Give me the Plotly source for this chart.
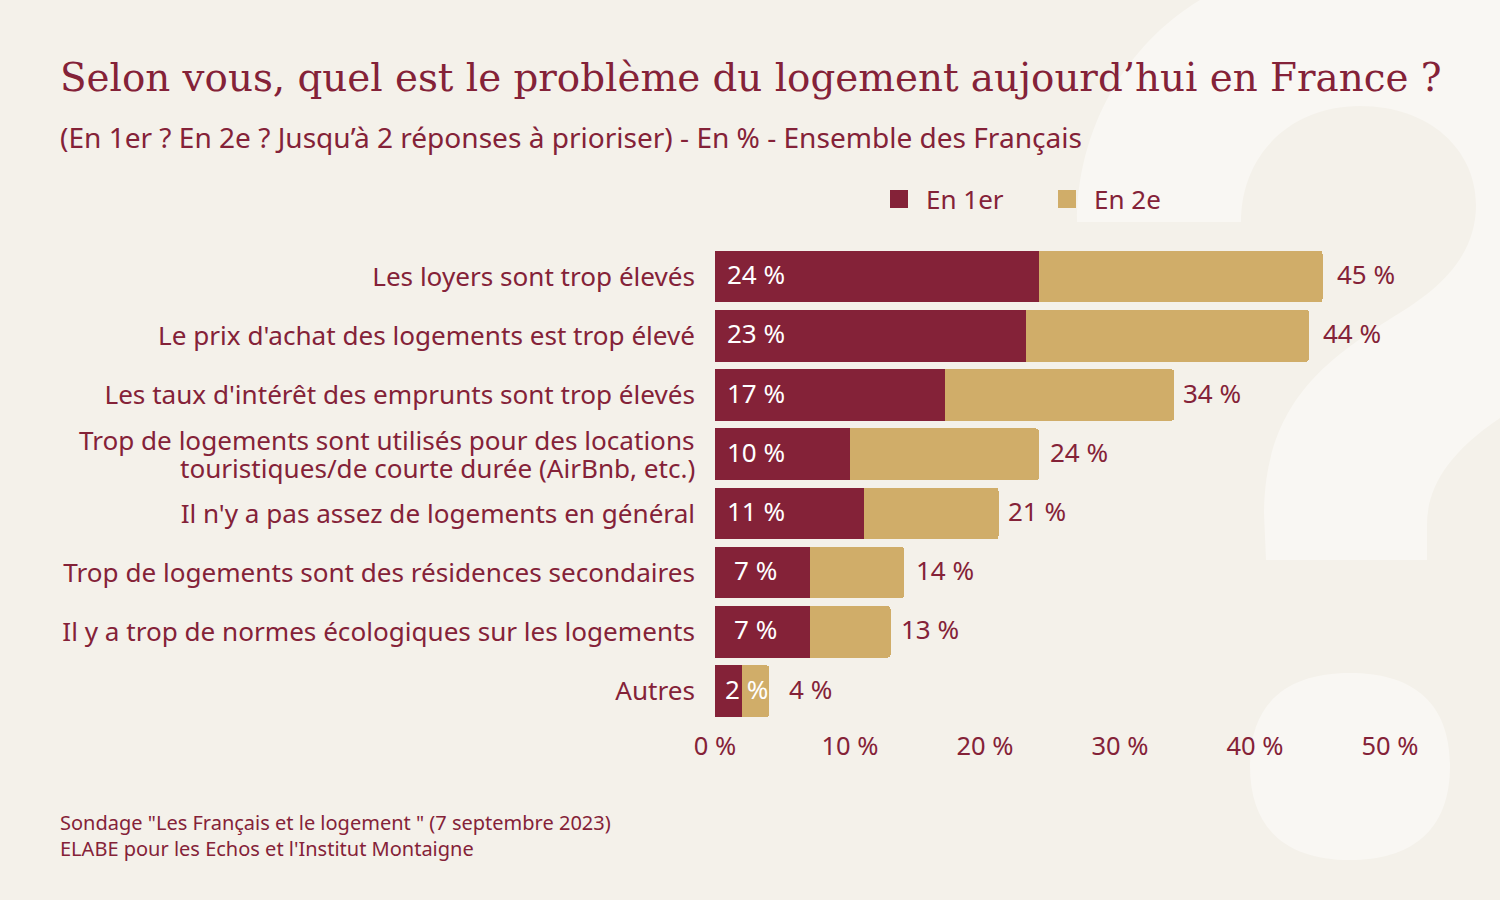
import re
import plotly.graph_objects as go

TITLE = "Selon vous, quel est le problème du logement aujourd’hui en France ?"
SUBTITLE = "(En 1er ? En 2e ? Jusqu’à 2 réponses à prioriser) - En % - Ensemble des Français"
SOURCE = "Sondage \"Les Français et le logement \" (7 septembre 2023)<br>ELABE pour les Echos et l'Institut Montaigne"

categories = [
    "Les loyers sont trop élevés",
    "Le prix d'achat des logements est trop élevé",
    "Les taux d'intérêt des emprunts sont trop élevés",
    "Trop de logements sont utilisés pour des locations<br>touristiques/de courte durée (AirBnb, etc.)",
    "Il n'y a pas assez de logements en général",
    "Trop de logements sont des résidences secondaires",
    "Il y a trop de normes écologiques sur les logements",
    "Autres",
]
en_1er = [24, 23, 17, 10, 11, 7, 7, 2]
total = [45, 44, 34, 24, 21, 14, 13, 4]
x_ticks = [0, 10, 20, 30, 40, 50]

CRIMSON = "#842238"
GOLD = "#d0ad69"
BG = "#f4f1ea"
GLYPH = "#f9f7f3"
SANS = "Noto Sans"
W, H = 1500, 900

en_2e = [t - p for t, p in zip(total, en_1er)]
# ecart des etiquettes de total, en unites d'axe
total_gap = [3.2, 3.2, 2.85, 2.95, 2.85, 3, 2.95, 3.05]

fig = go.Figure()

fig.add_trace(go.Bar(
    y=categories, x=en_1er, orientation="h", marker=dict(color=CRIMSON, line_width=0),
    name="En 1er", showlegend=False, legendgroup="a",
))
fig.add_trace(go.Bar(
    y=categories, x=en_2e, orientation="h", marker=dict(color=GOLD, line_width=0),
    name="En 2e", showlegend=False, legendgroup="b",
))

# entrees de legende : carres plus grands que ceux des barres
for name, color, group in [("En 1er", CRIMSON, "a"), ("En 2e", GOLD, "b")]:
    fig.add_trace(go.Scatter(
        x=[None], y=[None], mode="markers", name=name, legendgroup=group,
        marker=dict(symbol="square", size=16, color=color, line=dict(width=2, color=color)),
    ))

annotations = [
    dict(text=SUBTITLE, x=57.5 / W, y=1 - 137 / H, xref="paper", yref="paper",
         xanchor="left", yanchor="middle", showarrow=False, align="left",
         font=dict(family=SANS, size=28.05, color=CRIMSON)),
    dict(text=SOURCE, x=57.5 / W, y=1 - 835 / H, xref="paper", yref="paper",
         xanchor="left", yanchor="middle", showarrow=False, align="left",
         font=dict(family=SANS, size=20, color=CRIMSON)),
]

# etiquettes de valeurs
for cat, v, t, g in zip(categories, en_1er, total, total_gap):
    for x, label, color in [(min(3, v + 0.3), v, "white"), (t + g, t, CRIMSON)]:
        annotations.append(dict(
            text=f"{label} %", x=x, y=cat, xref="x", yref="y", xanchor="center",
            yanchor="middle", showarrow=False, yshift=2.5,
            font=dict(family=SANS, size=26, color=color),
        ))

# libelle sur deux lignes : interligne plus serre que celui des ticks
tick_text = []
for cat in categories:
    lines = cat.split("<br>")
    if len(lines) == 1:
        tick_text.append(cat)
        continue
    tick_text.append("")
    for line, shift in zip(lines, (14, -14)):
        annotations.append(dict(
            text=line, x=0, y=cat, xref="x", yref="y", xanchor="right", yanchor="middle",
            xshift=-18, yshift=shift, showarrow=False,
            font=dict(family=SANS, size=26.1, color=CRIMSON),
        ))

# point d'interrogation decoratif en fond, trace en pixels de page
glyph_px = (
    "M1266,560 L1427,560 L1427,525 C1427,490 1445,455 1500,418 L1500,0 L1200,0 "
    "C1125,45 1077,130 1077,222 L1241,222 C1241,155 1290,106 1360,106 "
    "C1430,106 1476,150 1476,205 C1476,262 1430,295 1393,317 "
    "C1330,358 1265,400 1264,513 Z "
    "M1250,766 C1250,700 1290,673 1350,673 C1410,673 1450,700 1450,766 "
    "C1450,832 1410,860 1350,860 C1290,860 1250,832 1250,766 Z"
)
glyph_path = re.sub(
    r"(\d+),(\d+)",
    lambda m: f"{int(m[1]) / W:.5f},{1 - int(m[2]) / H:.5f}",
    glyph_px,
)

fig.update_layout(
    width=W, height=H, margin=dict(l=0, r=0, t=0, b=0, autoexpand=False),
    paper_bgcolor=BG, plot_bgcolor="rgba(0,0,0,0)",
    barmode="stack", bargap=0.13, barcornerradius=3,
    font=dict(family=SANS, color=CRIMSON, size=26),
    title=dict(
        text=TITLE, x=60 / W, xanchor="left", y=1 - 77 / H, yanchor="middle",
        xref="paper", yref="paper",
        font=dict(family="DejaVu Serif", size=38.8, color=CRIMSON),
    ),
    xaxis=dict(
        domain=[715 / W, 1390 / W], range=[0, 50],
        tickvals=x_ticks, ticktext=[f"{t} %" for t in x_ticks],
        showgrid=False, zeroline=False, showline=False,
        ticks="", ticklabelstandoff=8, tickfont=dict(size=25.5, color=CRIMSON),
    ),
    yaxis=dict(
        type="category",
        domain=[1 - 720.7 / H, 1 - 247 / H], autorange="reversed",
        categoryorder="array", categoryarray=categories,
        tickmode="array", tickvals=categories, ticktext=tick_text,
        showgrid=False, zeroline=False, showline=False,
        ticks="", ticklabelstandoff=19, tickfont=dict(size=26.1, color=CRIMSON),
    ),
    legend=dict(
        orientation="h", x=872 / W, xanchor="left", y=1 - 199 / H, yanchor="middle",
        bgcolor="rgba(0,0,0,0)", font=dict(size=26, color=CRIMSON),
        entrywidth=109, itemwidth=44,
    ),
    annotations=annotations,
    shapes=[
        dict(type="path", path=glyph_path, xref="paper", yref="paper", layer="below",
             fillcolor=GLYPH, line_width=0),
    ],
)

fig.write_html(
    "out.html",
    config=dict(displayModeBar=False),
    post_script="document.body.style.margin='0';",
)
